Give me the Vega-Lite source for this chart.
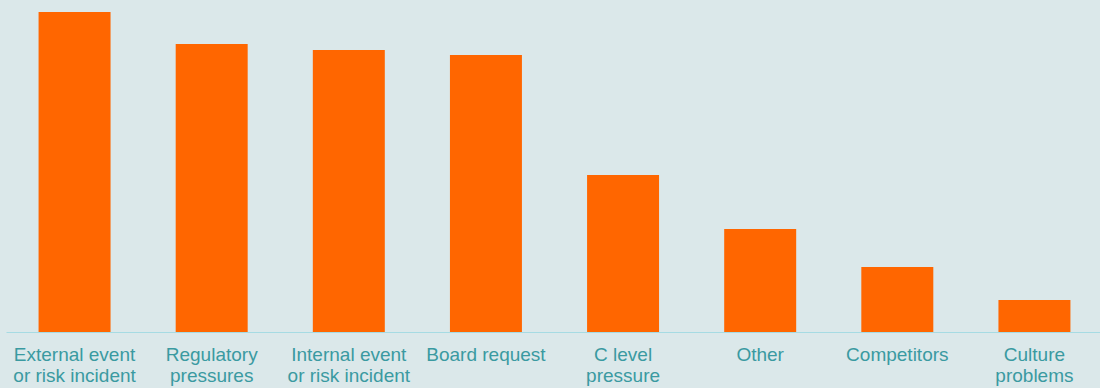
{
  "$schema": "https://vega.github.io/schema/vega-lite/v6.json",
  "autosize": {"type": "none"},
  "width": 1097,
  "height": 320,
  "padding": {"left": 6, "top": 12, "right": 0, "bottom": 56},
  "background": "#dbe8ea",
  "config": {"view": {"stroke": null}},
  "data": {"values": [
    {"cat": "External event|or risk incident", "v": 320},
    {"cat": "Regulatory|pressures", "v": 288},
    {"cat": "Internal event|or risk incident", "v": 282},
    {"cat": "Board request", "v": 277},
    {"cat": "C level|pressure", "v": 157},
    {"cat": "Other", "v": 103},
    {"cat": "Competitors", "v": 65},
    {"cat": "Culture|problems", "v": 32}
  ]},
  "mark": {"type": "bar", "color": "#ff6600"},
  "encoding": {
    "x": {"field": "cat", "type": "nominal", "sort": null,
      "scale": {"paddingInner": 0.475, "paddingOuter": 0.2375},
      "axis": {"title": null, "labelAngle": 0, "labelExpr": "split(datum.label, '|')",
        "labelFont": "Liberation Sans", "labelFontSize": 19, "labelColor": "#3a9aa1",
        "labelLineHeight": 21, "labelPadding": 13, "ticks": false,
        "domainColor": "#a6dbe3", "domainWidth": 1, "labelBaseline": "top"}},
    "y": {"field": "v", "type": "quantitative", "scale": {"domain": [0, 320], "nice": false}, "axis": null}
  }
}
